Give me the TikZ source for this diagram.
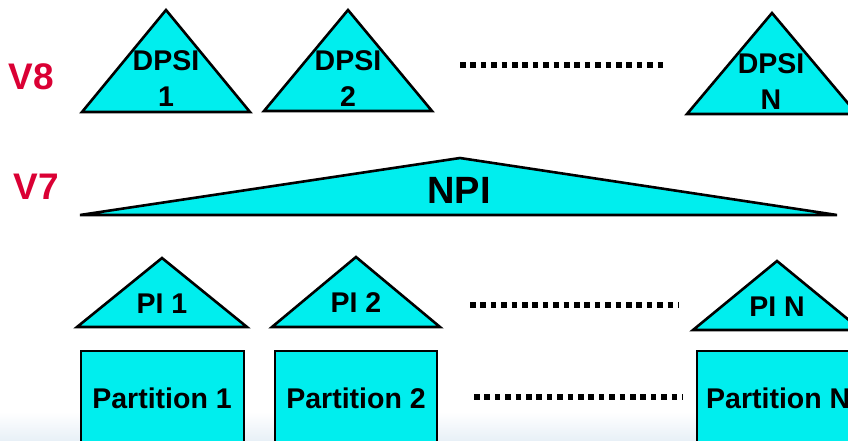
\documentclass[tikz,border=0pt]{standalone}
\usepackage{fontspec}
\setmainfont{Liberation Sans}
\definecolor{boxcyan}{RGB}{0,238,238}
\definecolor{labred}{RGB}{218,0,52}
\definecolor{bgblue}{RGB}{232,240,247}
\begin{document}
\begin{tikzpicture}[x=1pt,y=-1pt,
  shapebox/.style={draw=black,fill=boxcyan,line width=2.6pt,line join=miter},
  lbl/.style={font=\bfseries\fontsize{28.5}{36}\selectfont,text=black,inner sep=0pt,align=center},
  vlabel/.style={font=\bfseries\fontsize{37}{40}\selectfont,text=labred,inner sep=0pt},
  dots/.style={line width=5.2pt,dash pattern=on 5.6pt off 4.8pt}
]
\useasboundingbox (0,0) rectangle (848,440);
\fill[white] (0,0) rectangle (848,440);
\shade[top color=white,bottom color=bgblue] (0,412) rectangle (848,440);

% V8 row
\draw[shapebox] (166,10) -- (250,112) -- (82,112) -- cycle;
\draw[shapebox] (348,10) -- (432,111) -- (264,111) -- cycle;
\draw[shapebox] (772,13) -- (857,114) -- (687,114) -- cycle;
\node[lbl] (dpsi1) at (166,79) {DPSI\\1};
\node[lbl] (dpsi2) at (348,79) {DPSI\\2};
\node[lbl] (dpsin) at (771,82) {DPSI\\N};
\coordinate (d1a) at (460,65);
\coordinate (d1b) at (667,65);
\draw[dots] (d1a) -- (d1b);
\node[vlabel] (v8) at (31,77) {V8};

% V7 row
\draw[shapebox] (80,215) -- (460,158) -- (837,215) -- cycle;
\node[font=\bfseries\fontsize{38}{40}\selectfont,inner sep=0pt] (npi) at (459,190) {NPI};
\node[vlabel] (v7) at (36,187) {V7};

% PI row
\draw[shapebox] (162,258) -- (247,327) -- (77,327) -- cycle;
\draw[shapebox] (356,257) -- (440,327) -- (272,327) -- cycle;
\draw[shapebox] (777,261) -- (861,330) -- (693,330) -- cycle;
\node[lbl] (pi1) at (162,304) {PI 1};
\node[lbl] (pi2) at (356,303) {PI 2};
\node[lbl] (pin) at (777,307) {PI N};
\coordinate (d2a) at (470,305);
\coordinate (d2b) at (679,305);
\draw[dots] (d2a) -- (d2b);

% Partition row
\draw[shapebox] (81,351) rectangle (244,460);
\draw[shapebox] (275,351) rectangle (437,460);
\draw[shapebox] (697,351) rectangle (870,460);
\node[lbl] (p1) at (162,398) {Partition 1};
\node[lbl] (p2) at (356,398) {Partition 2};
\node[lbl,anchor=west] (pn) at (706,398) {Partition N};
\coordinate (d3a) at (474,397);
\coordinate (d3b) at (683,397);
\draw[dots] (d3a) -- (d3b);
\end{tikzpicture}
\end{document}
